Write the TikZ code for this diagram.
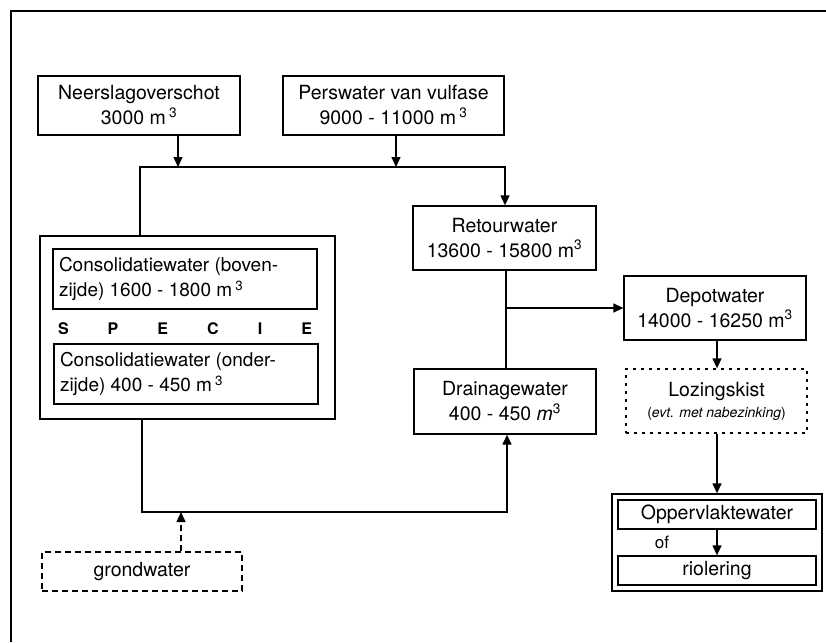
\documentclass[tikz,border=0pt]{standalone}
\usepackage{fontspec}
\setmainfont{TeX Gyre Heros}
\usetikzlibrary{arrows.meta}
\begin{document}
\begin{tikzpicture}[x=1pt,y=-1pt,
  box/.style={draw,line width=1.3pt,inner sep=0pt,align=center,font=\fontsize{19.5}{25}\selectfont},
  flow/.style={line width=1.3pt},
  arr/.style={flow,-{Triangle[length=10pt,width=9pt]}},
  dashedbox/.style={box,dash pattern=on 6pt off 4pt},
  dottedbox/.style={box,dash pattern=on 3pt off 5pt}]
\useasboundingbox (0,0) rectangle (826,642);
% frame along the top and left edge
\draw[line width=2pt] (826,11) -- (11,11) -- (11,642);

% sources
\node[box,minimum width=202pt,minimum height=59pt] (neer) at (139,105.5)
  {Neerslagoverschot\\ 3000 m\,\textsuperscript{3}};
\node[box,minimum width=221pt,minimum height=59pt] (pers) at (393.5,105.5)
  {Perswater van vulfase\\ 9000 - 11000 m\,\textsuperscript{3}};

% specie with its consolidation water
\node[box,minimum width=295pt,minimum height=183pt] (spec) at (187.5,327.5) {};
\node[box,minimum width=264pt,minimum height=60pt,font=\fontsize{19}{25}\selectfont] (boven) at (185,279)
  {\parbox{252pt}{Consolidatiewater (boven-\\zijde) 1600 - 1800 m\,\textsuperscript{3}}};
\node[inner sep=0pt,text width=254pt,font=\fontsize{16}{18}\selectfont\bfseries] (specie) at (185,329)
  {S\hfill P\hfill E\hfill C\hfill I\hfill E};
\node[box,minimum width=264pt,minimum height=60pt,font=\fontsize{19}{25}\selectfont] (onder) at (186,374)
  {\parbox{252pt}{Consolidatiewater (onder-\\zijde) 400 - 450 m\,\textsuperscript{3}}};

% water streams
\node[box,minimum width=183pt,minimum height=64pt] (retour) at (504.5,238)
  {Retourwater\\ 13600 - 15800 m\textsuperscript{3}};
\node[box,minimum width=182pt,minimum height=65pt] (drain) at (505,401.5)
  {Drainagewater\\ 400 - 450 \textit{m}\textsuperscript{3}};
\node[box,minimum width=182pt,minimum height=64pt] (depot) at (715,308)
  {Depotwater\\ 14000 - 16250 m\textsuperscript{3}};
\node[dottedbox,minimum width=181pt,minimum height=64pt] (loz) at (716.5,401)
  {Lozingskist\\[-4pt] {\fontsize{14}{16}\selectfont(\textit{evt. met nabezinking})}};
\node[dashedbox,minimum width=200pt,minimum height=39pt] (grond) at (142,571.5) {grondwater};

% discharge
\node[box,minimum width=210pt,minimum height=97pt] (final) at (717,542.5) {};
\node[box,minimum width=198pt,minimum height=29pt] (opper) at (717,514.5) {Oppervlaktewater};
\node[box,minimum width=198pt,minimum height=29pt] (riol) at (717,570.5) {riolering};
\node[inner sep=0pt,font=\fontsize{17}{20}\selectfont] (of) at (662,542) {of};

% junction points
\coordinate (jl) at (140,167);
\coordinate (jr) at (505,167);
\coordinate (nx) at (178,0);
\coordinate (px) at (396,0);
\coordinate (rx) at (506,0);
\coordinate (br) at (506,308);
\coordinate (bl) at (142,512);
\coordinate (bot) at (507,512);
\coordinate (gx) at (181,0);
\coordinate (lx) at (717,0);

% connectors
\draw[arr] (neer.south -| nx) -- (jl -| nx);
\draw[arr] (pers.south -| px) -- (jl -| px);
\draw[arr] (spec.north -| jl) -- (jl) -- (jr) -- (retour.north -| jr);
\draw[flow] (retour.south -| rx) -- (drain.north -| rx);
\draw[arr] (br) -- (depot.west |- br);
\draw[arr] (spec.south -| bl) -- (bl) -- (bot) -- (drain.south -| bot);
\draw[arr,dash pattern=on 6pt off 4pt] (grond.north -| gx) -- (bot -| gx);
\draw[arr] (depot.south -| lx) -- (loz.north -| lx);
\draw[arr] (loz.south -| lx) -- (final.north -| lx);
\draw[arr] (opper.south -| lx) -- (riol.north -| lx);
\end{tikzpicture}
\end{document}
